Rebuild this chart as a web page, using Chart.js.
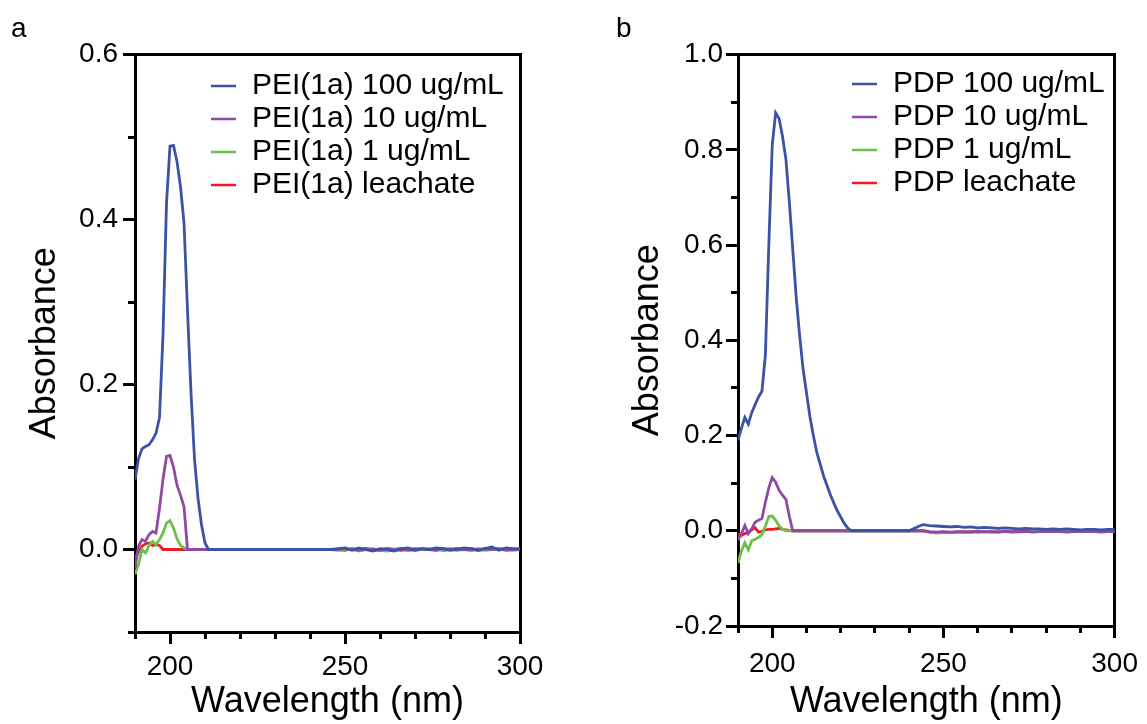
<!DOCTYPE html>
<html>
<head>
<meta charset="utf-8">
<script src="https://cdn.jsdelivr.net/npm/chart.js@4.4.1/dist/chart.umd.min.js"></script>
<style>
  html, body { margin: 0; padding: 0; background: #fff; }
  #wrap { position: relative; width: 1147px; height: 724px; }
  .panel { position: absolute; top: 0; height: 724px; }
  #panelA { left: 0; width: 560px; }
  #panelB { left: 560px; width: 587px; }
</style>
</head>
<body>
<div id="wrap">
  <div class="panel" id="panelA"><canvas id="chartA"></canvas></div>
  <div class="panel" id="panelB"><canvas id="chartB"></canvas></div>
</div>
<script>
// wavelength (nm): 1 nm steps through the peaks, 2 nm after
const wavelengths = [
  190, 191, 192, 193, 194, 195, 196, 197, 198, 199,
  200, 201, 202, 203, 204, 205, 206, 207, 208, 209,
  210, 211, 212, 213, 214, 215, 216, 217, 218, 219,
  220, 221, 222, 223, 224,
  226, 228, 230, 232, 234, 236, 238, 240, 242, 244, 246,
  248, 250, 252, 254, 256, 258, 260, 262, 264, 266, 268, 270, 272, 274,
  276, 278, 280, 282, 284, 286, 288, 290, 292, 294, 296, 298, 300
];

// panel a - PEI(1a)
const pei100 = [
  0.085, 0.110, 0.122, 0.125, 0.127, 0.133, 0.141, 0.160, 0.260, 0.420,
  0.489, 0.490, 0.470, 0.440, 0.396, 0.290, 0.190, 0.110, 0.062, 0.030,
  0.008, 0, 0, 0, 0, 0, 0, 0, 0, 0,
  0, 0, 0, 0, 0,
  0, 0, 0, 0, 0, 0, 0, 0, 0, 0, 0,
  0.001, 0.002, -0.001, 0.002, 0.000, -0.002, 0.001, 0.000, -0.002, 0.001, 0.002, -0.001, 0.001, 0.000,
  0.002, 0.001, -0.001, 0.000, 0.002, 0.001, -0.001, 0.001, 0.003, -0.001, 0.002, 0.001, 0.000
];
const pei10 = [
  -0.022, 0.004, 0.012, 0.010, 0.018, 0.022, 0.020, 0.050, 0.085, 0.113,
  0.114, 0.100, 0.078, 0.066, 0.052, 0, 0, 0, 0, 0,
  0, 0, 0, 0, 0, 0, 0, 0, 0, 0,
  0, 0, 0, 0, 0,
  0, 0, 0, 0, 0, 0, 0, 0, 0, 0, 0,
  0.000, 0.001, 0.000, -0.001, 0.001, 0.000, -0.001, 0.001, 0.000, 0.001, -0.001, 0.000, 0.001, 0.000,
  -0.001, 0.001, 0.000, 0.001, 0.000, -0.001, 0.000, 0.001, 0.000, 0.001, -0.001, 0.000, 0.001
];
const pei1 = [
  -0.030, -0.018, 0.000, -0.004, 0.005, 0.010, 0.006, 0.012, 0.020, 0.032,
  0.035, 0.026, 0.013, 0.005, 0.002, 0, 0, 0, 0, 0,
  0, 0, 0, 0, 0, 0, 0, 0, 0, 0,
  0, 0, 0, 0, 0,
  0, 0, 0, 0, 0, 0, 0, 0, 0, 0, 0,
  -0.001, 0.000, 0.001, -0.002, 0.000, 0.001, -0.001, -0.002, 0.000, 0.001, 0.000, -0.001, 0.000, 0.001,
  -0.001, 0.000, 0.001, -0.001, 0.000, 0.000, 0.001, -0.001, 0.000, 0.001, 0.000, -0.001, 0.000
];
const peiLeach = [
  -0.010, -0.003, 0.004, 0.007, 0.008, 0.005, 0.006, 0.005, 0, 0,
  0, 0, 0, 0, 0, 0, 0, 0, 0, 0,
  0, 0, 0, 0, 0, 0, 0, 0, 0, 0,
  0, 0, 0, 0, 0,
  0, 0, 0, 0, 0, 0, 0, 0, 0, 0, 0,
  0.000, -0.001, 0.001, 0.000, 0.001, -0.001, 0.000, 0.001, 0.000, -0.001, 0.000, 0.001, 0.000, 0.000,
  0.001, -0.001, 0.000, 0.001, 0.000, 0.001, -0.001, 0.000, 0.002, 0.000, 0.001, 0.000, 0.001
];

// panel b - PDP
const pdp100 = [
  0.190, 0.215, 0.238, 0.224, 0.248, 0.265, 0.281, 0.293, 0.370, 0.600,
  0.810, 0.878, 0.866, 0.828, 0.780, 0.690, 0.590, 0.490, 0.410, 0.340,
  0.290, 0.240, 0.200, 0.165, 0.140, 0.115, 0.095, 0.075, 0.058, 0.042,
  0.029, 0.016, 0.006, 0, 0,
  0, 0, 0, 0, 0, 0, 0, 0, 0.007, 0.013, 0.011,
  0.010, 0.009, 0.008, 0.009, 0.007, 0.008, 0.006, 0.007, 0.006, 0.005, 0.006, 0.005, 0.004, 0.005,
  0.004, 0.004, 0.003, 0.004, 0.003, 0.004, 0.003, 0.002, 0.003, 0.003, 0.002, 0.003, 0.003
];
const pdp10 = [
  -0.020, -0.006, 0.011, -0.006, 0.004, 0.018, 0.022, 0.026, 0.060, 0.090,
  0.112, 0.102, 0.085, 0.075, 0.066, 0.030, 0, 0, 0, 0,
  0, 0, 0, 0, 0, 0, 0, 0, 0, 0,
  0, 0, 0, 0, 0,
  0, 0, 0, 0, 0, 0, 0, 0, 0, 0, -0.002,
  -0.003, -0.002, -0.003, -0.002, -0.002, -0.003, -0.001, -0.002, -0.002, -0.003, -0.001, -0.002, -0.002, -0.001,
  -0.003, -0.002, -0.002, -0.001, -0.002, -0.003, -0.002, -0.001, -0.002, -0.002, -0.003, -0.002, -0.002
];
const pdp1 = [
  -0.068, -0.042, -0.025, -0.040, -0.021, -0.018, -0.014, -0.008, 0.010, 0.030,
  0.031, 0.022, 0.010, 0.003, 0, 0, 0, 0, 0, 0,
  0, 0, 0, 0, 0, 0, 0, 0, 0, 0,
  0, 0, 0, 0, 0,
  0, 0, 0, 0, 0, 0, 0, 0, 0, 0, -0.003,
  -0.005, -0.004, -0.004, -0.003, -0.004, -0.003, -0.002, -0.003, -0.002, -0.003, -0.002, -0.002, -0.003, -0.002,
  -0.001, -0.002, -0.002, -0.001, -0.002, -0.002, -0.001, -0.002, -0.001, -0.002, -0.002, -0.001, -0.002
];
const pdpLeach = [
  -0.007, -0.010, -0.006, -0.003, 0.002, 0.006, -0.003, -0.001, 0.002, 0.003,
  0.003, 0.004, 0.005, 0.003, 0.002, 0.001, 0, 0, 0, 0,
  0, 0, 0, 0, 0, 0, 0, 0, 0, 0,
  0, 0, 0, 0, 0,
  0, 0, 0, 0, 0, 0, 0, 0, 0, 0, -0.003,
  -0.004, -0.003, -0.004, -0.003, -0.003, -0.002, -0.003, -0.002, -0.003, -0.002, -0.002, -0.003, -0.002, -0.002,
  -0.001, -0.002, -0.002, -0.001, -0.002, -0.001, -0.002, -0.001, -0.002, -0.001, -0.001, -0.002, -0.001
];

const peiLabels = ["PEI(1a) 100 ug/mL", "PEI(1a) 10 ug/mL", "PEI(1a) 1 ug/mL", "PEI(1a) leachate"];
const pdpLabels = ["PDP 100 ug/mL", "PDP 10 ug/mL", "PDP 1 ug/mL", "PDP leachate"];
const seriesColors = ["#3a53a4", "#8f4aa5", "#6cc04a", "#ed1c24"];

const xMajorTicks = [200, 250, 300];
const xMinorTicks = [190, 200, 210, 220, 230, 240, 250, 260, 270, 280, 290, 300];
const peiYMajor = [0, 0.2, 0.4, 0.6];
const peiYMinor = [-0.1, 0, 0.1, 0.2, 0.3, 0.4, 0.5, 0.6];
const pdpYMajor = [-0.2, 0, 0.2, 0.4, 0.6, 0.8, 1.0];
const pdpYMinor = [-0.2, -0.1, 0, 0.1, 0.2, 0.3, 0.4, 0.5, 0.6, 0.7, 0.8, 0.9, 1.0];

const FONT = "'Liberation Sans', Arial, sans-serif";
Chart.defaults.font.family = FONT;
Chart.defaults.color = "#000";

// legend drawn as short line samples, rows packed like the original figure
const lineLegend = {
  id: "lineLegend",
  afterDraw(chart, args, opts) {
    const ctx = chart.ctx;
    ctx.save();
    ctx.font = opts.size + "px " + FONT;
    ctx.textBaseline = "middle";
    ctx.textAlign = "left";
    chart.data.datasets.forEach((ds, i) => {
      const y = opts.y + i * opts.rowHeight;
      ctx.strokeStyle = ds.borderColor;
      ctx.lineWidth = 2.5;
      ctx.beginPath();
      ctx.moveTo(opts.x, y);
      ctx.lineTo(opts.x + opts.lineLength, y);
      ctx.stroke();
      ctx.fillStyle = "#000";
      ctx.fillText(ds.label, opts.x + opts.lineLength + opts.gap, y);
    });
    ctx.restore();
  },
};

function toPoints(values) {
  return values.map((v, i) => ({ x: wavelengths[i], y: v }));
}

function tickList(values) {
  return (scale) => {
    scale.ticks = values.map((v) => ({ value: v }));
  };
}

function fixedSize(prop, size) {
  return (scale) => {
    scale[prop] = size;
  };
}

function makePanel(canvasId, p) {
  const axisLine = { display: true, color: "#000", width: 3 };
  const noLine = { display: false };
  const majorGrid = { drawOnChartArea: false, tickLength: 12, tickWidth: 3, color: "#000" };
  const minorGrid = { drawOnChartArea: false, tickLength: 7, tickWidth: 3, color: "#000" };

  new Chart(document.getElementById(canvasId), {
    type: "line",
    data: {
      datasets: p.series.map((vals, i) => ({
        label: p.labels[i],
        data: toPoints(vals),
        borderColor: seriesColors[i],
        borderWidth: 2.8,
        pointRadius: 0,
        fill: false,
        tension: 0,
      })),
    },
    options: {
      responsive: true,
      maintainAspectRatio: false,
      animation: false,
      layout: { padding: p.padding },
      plugins: {
        legend: { display: false },
        tooltip: { enabled: false },
        title: {
          display: true,
          text: p.tag,
          align: "start",
          color: "#000",
          font: { size: 28, weight: "normal" },
          padding: { top: 0, bottom: 9 },
        },
        lineLegend: p.legend,
      },
      scales: {
        x: {
          type: "linear",
          position: "bottom",
          weight: 1,
          min: 190,
          max: 300,
          afterBuildTicks: tickList(xMajorTicks),
          afterFit: fixedSize("height", p.xAxisHeight),
          border: axisLine,
          grid: majorGrid,
          ticks: { font: { size: 28 }, padding: p.xTickPad, maxRotation: 0, autoSkip: false, callback: (v) => String(v) },
          title: { display: true, text: "Wavelength (nm)", font: { size: 36 }, padding: { top: 0, bottom: 0 } },
        },
        xMinor: {
          type: "linear",
          position: "bottom",
          weight: 0,
          min: 190,
          max: 300,
          afterBuildTicks: tickList(xMinorTicks),
          afterFit: fixedSize("height", 0),
          border: noLine,
          grid: minorGrid,
          ticks: { display: false },
        },
        xTop: {
          type: "linear",
          position: "top",
          min: 190,
          max: 300,
          afterFit: fixedSize("height", 0),
          border: axisLine,
          grid: { display: false },
          ticks: { display: false },
        },
        y: {
          type: "linear",
          position: "left",
          weight: 1,
          min: p.yMin,
          max: p.yMax,
          afterBuildTicks: tickList(p.yMajor),
          afterFit: fixedSize("width", p.yAxisWidth),
          border: axisLine,
          grid: majorGrid,
          ticks: { font: { size: 28 }, padding: p.yTickPad, autoSkip: false, callback: (v) => Number(v).toFixed(1) },
          title: { display: true, text: "Absorbance", font: { size: 36 }, padding: { top: p.yTitlePad, bottom: 0 } },
        },
        yMinor: {
          type: "linear",
          position: "left",
          weight: 0,
          min: p.yMin,
          max: p.yMax,
          afterBuildTicks: tickList(p.yMinor),
          afterFit: fixedSize("width", 0),
          border: noLine,
          grid: minorGrid,
          ticks: { display: false },
        },
        yRight: {
          type: "linear",
          position: "right",
          min: p.yMin,
          max: p.yMax,
          afterFit: fixedSize("width", 0),
          border: axisLine,
          grid: { display: false },
          ticks: { display: false },
        },
      },
    },
    plugins: [lineLegend],
  });
}

makePanel("chartA", {
  tag: "a",
  labels: peiLabels,
  series: [pei100, pei10, pei1, peiLeach],
  yMin: -0.1,
  yMax: 0.6,
  yMajor: peiYMajor,
  yMinor: peiYMinor,
  padding: { top: 12, left: 11, right: 40, bottom: 0 },
  yAxisWidth: 124,
  xAxisHeight: 92,
  xTickPad: 6,
  yTickPad: 5,
  yTitlePad: 12,
  legend: { x: 211, y: 86, rowHeight: 33, lineLength: 25, gap: 16, size: 30 },
});

makePanel("chartB", {
  tag: "b",
  labels: pdpLabels,
  series: [pdp100, pdp10, pdp1, pdpLeach],
  yMin: -0.2,
  yMax: 1.0,
  yMajor: pdpYMajor,
  yMinor: pdpYMinor,
  padding: { top: 12, left: 56, right: 28, bottom: 0 },
  yAxisWidth: 122,
  xAxisHeight: 98,
  xTickPad: 9,
  yTickPad: 3,
  yTitlePad: 10,
  legend: { x: 292, y: 84, rowHeight: 33, lineLength: 25, gap: 16, size: 30 },
});
</script>
</body>
</html>
